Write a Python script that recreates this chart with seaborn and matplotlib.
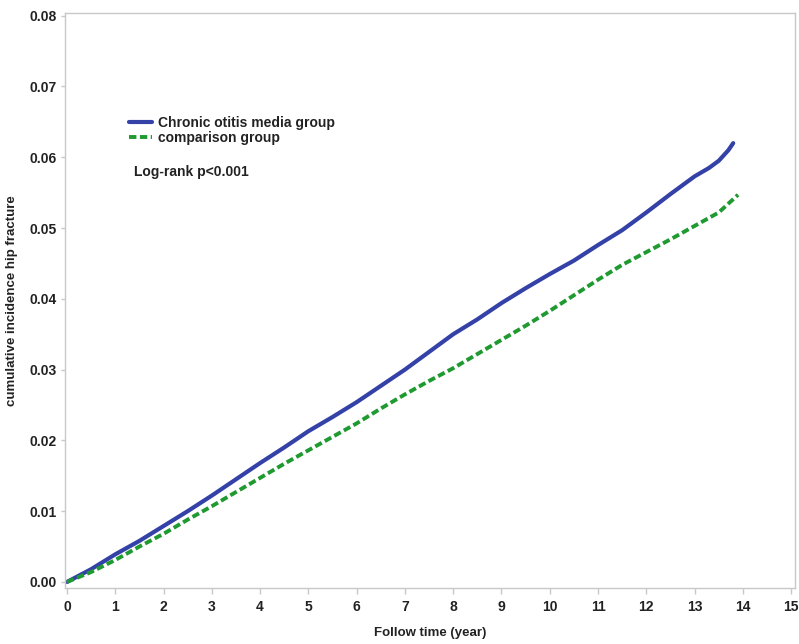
import numpy as np
import pandas as pd
import matplotlib
matplotlib.use("Agg")
import matplotlib.pyplot as plt
import seaborn as sns

# cumulative incidence
t_com = [0, 0.5, 1, 1.5, 2, 2.5, 3, 3.5, 4, 4.5, 5, 5.5, 6, 6.5, 7, 7.5, 8, 8.5,
         9, 9.5, 10, 10.5, 11, 11.5, 12, 12.5, 13, 13.3, 13.5, 13.7, 13.8]
com = [0, 0.0018, 0.0039, 0.0058, 0.0079, 0.0100, 0.0122, 0.0145, 0.0168, 0.0190,
       0.0213, 0.0233, 0.0254, 0.0277, 0.0300, 0.0325, 0.0350, 0.0371, 0.0394,
       0.0415, 0.0435, 0.0454, 0.0476, 0.0497, 0.0522, 0.0548, 0.0573, 0.0585,
       0.0595, 0.0610, 0.0620]

t_cmp = [0, 0.5, 1, 1.5, 2, 2.5, 3, 3.5, 4, 4.5, 5, 5.5, 6, 6.5, 7, 7.5, 8, 8.5,
         9, 9.5, 10, 10.5, 11, 11.5, 12, 12.5, 13, 13.5, 13.9]
cmp_ = [0, 0.0014, 0.0031, 0.0050, 0.0068, 0.0088, 0.0107, 0.0127, 0.0147, 0.0167,
        0.0186, 0.0205, 0.0224, 0.0245, 0.0265, 0.0284, 0.0302, 0.0322, 0.0342,
        0.0362, 0.0383, 0.0405, 0.0427, 0.0448, 0.0466, 0.0484, 0.0503, 0.0522,
        0.0547]

labels = ["Chronic otitis media group", "comparison group"]

sns.set_style("white")
plt.rcParams['font.family'] = ['Liberation Sans', 'DejaVu Sans']

fig = plt.figure(figsize=(7.99, 6.44), dpi=100)
ax = fig.add_axes([0.0814, 0.087, 0.9136, 0.893])

sns.lineplot(x=t_com, y=com, ax=ax, color="#3442a8", lw=3.0, label=labels[0])
sns.lineplot(x=t_cmp, y=cmp_, ax=ax, color="#1f9a30", lw=2.8, label=labels[1])
ax.lines[1].set_dashes((1.9, 0.9))

ax.set_xlim(-0.04, 15.08)
ax.set_ylim(-0.00085, 0.0804)
ax.set_xticks(range(0, 16))
ax.set_yticks(np.arange(0, 0.081, 0.01))
ax.set_yticklabels([f"{v:.2f}" for v in np.arange(0, 0.081, 0.01)])

for s in ax.spines.values():
    s.set_color("#c8c8c8")
    s.set_linewidth(1.0)
ax.tick_params(axis="both", direction="out", length=4, width=1, color="#c8c8c8",
               bottom=True, left=True, pad=5,
               labelsize=10, labelcolor="#222222")
ax.tick_params(axis="y", length=3, pad=3)
for lab in ax.get_xticklabels() + ax.get_yticklabels():
    lab.set_fontweight("bold")

ax.set_xlabel("Follow time (year)", fontsize=9.5, fontweight="bold", color="#222222", labelpad=9)
ax.set_ylabel("cumulative incidence hip fracture", fontsize=9.5, fontweight="bold",
              color="#222222", labelpad=8)

leg = ax.legend(loc="upper left", bbox_to_anchor=(0.07, 0.843), frameon=False,
                handlelength=1.7, handletextpad=0.4, labelspacing=0.1,
                prop={"size": 10, "weight": "bold"})
for txt in leg.get_texts():
    txt.set_color("#222222")

ax.text(0.094, 0.7235, "Log-rank p<0.001", transform=ax.transAxes, fontsize=10,
        fontweight="bold", color="#222222", va="center", ha="left")

fig.savefig("out.png", dpi=100)
